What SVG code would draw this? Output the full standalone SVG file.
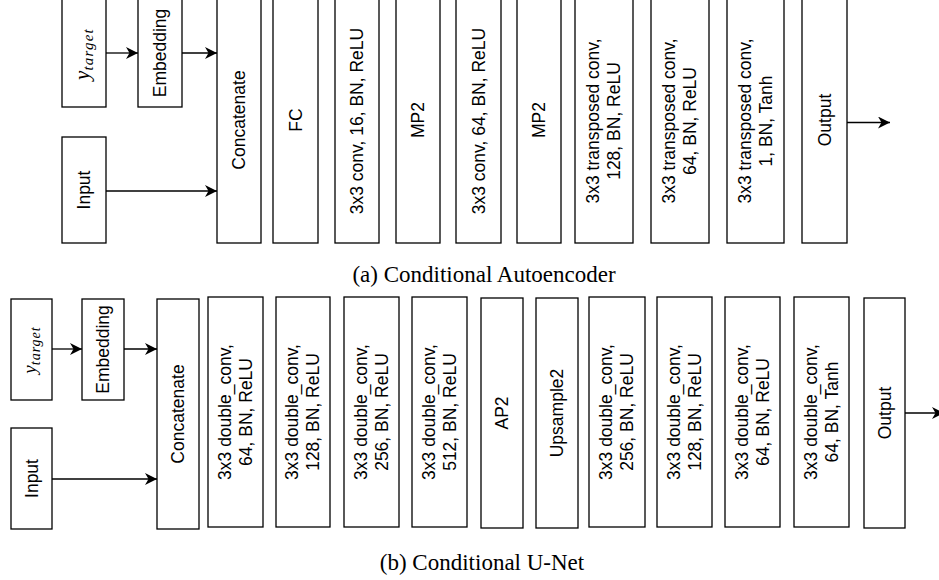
<svg xmlns="http://www.w3.org/2000/svg" width="939" height="580" viewBox="0 0 939 580">
<style>
  rect.b { fill: #fff; stroke: #000; stroke-width: 1.3; }
  text.l { font-family: "Liberation Sans", Arial, sans-serif; font-size: 17.5px; fill: #000; text-anchor: middle; }
  text.m { font-family: "Liberation Serif", "Times New Roman", serif; font-style: italic; fill: #000; text-anchor: middle; }
  text.cap { font-family: "Liberation Serif", "Times New Roman", serif; font-size: 23px; fill: #000; text-anchor: middle; }
  .conn line { stroke: #000; stroke-width: 1.3; fill: none; marker-end: url(#arr); }
</style>
<defs>
  <marker id="arr" markerUnits="userSpaceOnUse" markerWidth="14" markerHeight="14" refX="12" refY="6" orient="auto">
    <path d="M0,0 L12,6 L0,12 L3.5,6 Z" fill="#000"/>
  </marker>
</defs>
<rect width="939" height="580" fill="#fff"/>

<!-- Top row: Conditional Autoencoder -->
<g id="a-ytarget"><rect class="b" x="62" y="-2" width="44" height="109"/>
  <text class="m" transform="translate(84,54) rotate(-90)"><tspan y="5" font-size="21">y</tspan><tspan font-size="15" dy="3.5" letter-spacing="1.2">target</tspan></text></g>
<g id="a-embedding"><rect class="b" x="138" y="-2" width="44" height="109"/>
  <text class="l" transform="translate(160,53) rotate(-90)" y="6.3">Embedding</text></g>
<g id="a-input"><rect class="b" x="62" y="137" width="44" height="106"/>
  <text class="l" transform="translate(84,190) rotate(-90)" y="6.3">Input</text></g>
<g id="a-concat"><rect class="b" x="217" y="-2" width="44" height="245"/>
  <text class="l" transform="translate(239,120) rotate(-90)" y="6.3">Concatenate</text></g>
<g id="a-fc"><rect class="b" x="273" y="-2" width="45" height="245"/>
  <text class="l" transform="translate(295.5,120) rotate(-90)" y="6.3">FC</text></g>
<g id="a-conv16"><rect class="b" x="335" y="-2" width="44" height="245"/>
  <text class="l" transform="translate(357,121) rotate(-90)" y="6.3">3x3 conv, 16, BN, ReLU</text></g>
<g id="a-mp2a"><rect class="b" x="396" y="-2" width="44" height="245"/>
  <text class="l" transform="translate(418,120) rotate(-90)" y="6.3">MP2</text></g>
<g id="a-conv64"><rect class="b" x="456" y="-2" width="45" height="245"/>
  <text class="l" transform="translate(478.5,121) rotate(-90)" y="6.3">3x3 conv, 64, BN, ReLU</text></g>
<g id="a-mp2b"><rect class="b" x="517" y="-2" width="44" height="245"/>
  <text class="l" transform="translate(539,120) rotate(-90)" y="6.3">MP2</text></g>
<g id="a-tconv128"><rect class="b" x="575" y="-2" width="58" height="245"/>
  <text class="l" transform="translate(604,121) rotate(-90)"><tspan x="0" y="-5">3x3 transposed conv,</tspan><tspan x="0" y="16">128, BN, ReLU</tspan></text></g>
<g id="a-tconv64"><rect class="b" x="651" y="-2" width="58" height="245"/>
  <text class="l" transform="translate(680,121) rotate(-90)"><tspan x="0" y="-5">3x3 transposed conv,</tspan><tspan x="0" y="16">64, BN, ReLU</tspan></text></g>
<g id="a-tconv1"><rect class="b" x="727" y="-2" width="57" height="245"/>
  <text class="l" transform="translate(755.5,121) rotate(-90)"><tspan x="0" y="-5">3x3 transposed conv,</tspan><tspan x="0" y="16">1, BN, Tanh</tspan></text></g>
<g id="a-output"><rect class="b" x="802" y="-2" width="45" height="245"/>
  <text class="l" transform="translate(824.5,120) rotate(-90)" y="6.3">Output</text></g>

<text class="cap" x="484" y="282">(a) Conditional Autoencoder</text>

<!-- Bottom row: Conditional U-Net -->
<g id="b-ytarget"><rect class="b" x="11" y="299" width="41" height="101"/>
  <text class="m" transform="translate(31.5,350) rotate(-90)"><tspan y="4.5" font-size="19">y</tspan><tspan font-size="14" dy="3.5" letter-spacing="1">target</tspan></text></g>
<g id="b-embedding"><rect class="b" x="82" y="299" width="42" height="101"/>
  <text class="l" transform="translate(103,349.5) rotate(-90)" y="6.3">Embedding</text></g>
<g id="b-input"><rect class="b" x="11" y="428" width="41" height="101"/>
  <text class="l" transform="translate(31.5,478.5) rotate(-90)" y="6.3">Input</text></g>
<g id="b-concat"><rect class="b" x="157" y="299" width="42" height="230"/>
  <text class="l" transform="translate(178,414) rotate(-90)" y="6.3">Concatenate</text></g>
<g id="b-dc64"><rect class="b" x="208" y="297" width="55" height="230"/>
  <text class="l" transform="translate(235.5,412) rotate(-90)"><tspan x="0" y="-5">3x3 double_conv,</tspan><tspan x="0" y="16">64, BN, ReLU</tspan></text></g>
<g id="b-dc128"><rect class="b" x="276" y="297" width="54" height="230"/>
  <text class="l" transform="translate(303,412) rotate(-90)"><tspan x="0" y="-5">3x3 double_conv,</tspan><tspan x="0" y="16">128, BN, ReLU</tspan></text></g>
<g id="b-dc256"><rect class="b" x="344" y="297" width="55" height="230"/>
  <text class="l" transform="translate(371.5,412) rotate(-90)"><tspan x="0" y="-5">3x3 double_conv,</tspan><tspan x="0" y="16">256, BN, ReLU</tspan></text></g>
<g id="b-dc512"><rect class="b" x="412" y="297" width="55" height="230"/>
  <text class="l" transform="translate(439.5,412) rotate(-90)"><tspan x="0" y="-5">3x3 double_conv,</tspan><tspan x="0" y="16">512, BN, ReLU</tspan></text></g>
<g id="b-ap2"><rect class="b" x="481" y="298" width="42" height="230"/>
  <text class="l" transform="translate(502,413) rotate(-90)" y="6.3">AP2</text></g>
<g id="b-up2"><rect class="b" x="536" y="298" width="42" height="230"/>
  <text class="l" transform="translate(557,413) rotate(-90)" y="6.3">Upsample2</text></g>
<g id="b-dc256b"><rect class="b" x="589" y="297" width="56" height="230"/>
  <text class="l" transform="translate(617,412) rotate(-90)"><tspan x="0" y="-5">3x3 double_conv,</tspan><tspan x="0" y="16">256, BN, ReLU</tspan></text></g>
<g id="b-dc128b"><rect class="b" x="657" y="297" width="55" height="230"/>
  <text class="l" transform="translate(684.5,412) rotate(-90)"><tspan x="0" y="-5">3x3 double_conv,</tspan><tspan x="0" y="16">128, BN, ReLU</tspan></text></g>
<g id="b-dc64b"><rect class="b" x="725" y="297" width="55" height="230"/>
  <text class="l" transform="translate(752.5,412) rotate(-90)"><tspan x="0" y="-5">3x3 double_conv,</tspan><tspan x="0" y="16">64, BN, ReLU</tspan></text></g>
<g id="b-dctanh"><rect class="b" x="794" y="297" width="55" height="230"/>
  <text class="l" transform="translate(821.5,412) rotate(-90)"><tspan x="0" y="-5">3x3 double_conv,</tspan><tspan x="0" y="16">64, BN, Tanh</tspan></text></g>
<g id="b-output"><rect class="b" x="864" y="298" width="41" height="230"/>
  <text class="l" transform="translate(884.5,413) rotate(-90)" y="6.3">Output</text></g>

<text class="cap" x="482" y="570">(b) Conditional U-Net</text>

<g id="connectors" class="conn">
  <line x1="106" y1="53" x2="138" y2="53"/>
  <line x1="182" y1="53" x2="217" y2="53"/>
  <line x1="106" y1="191" x2="217" y2="191"/>
  <line x1="847" y1="122.5" x2="890" y2="122.5"/>
  <line x1="52" y1="349" x2="82" y2="349"/>
  <line x1="124" y1="349" x2="157" y2="349"/>
  <line x1="52" y1="479" x2="157" y2="479"/>
  <line x1="905" y1="413" x2="944" y2="413"/>
</g>
</svg>
